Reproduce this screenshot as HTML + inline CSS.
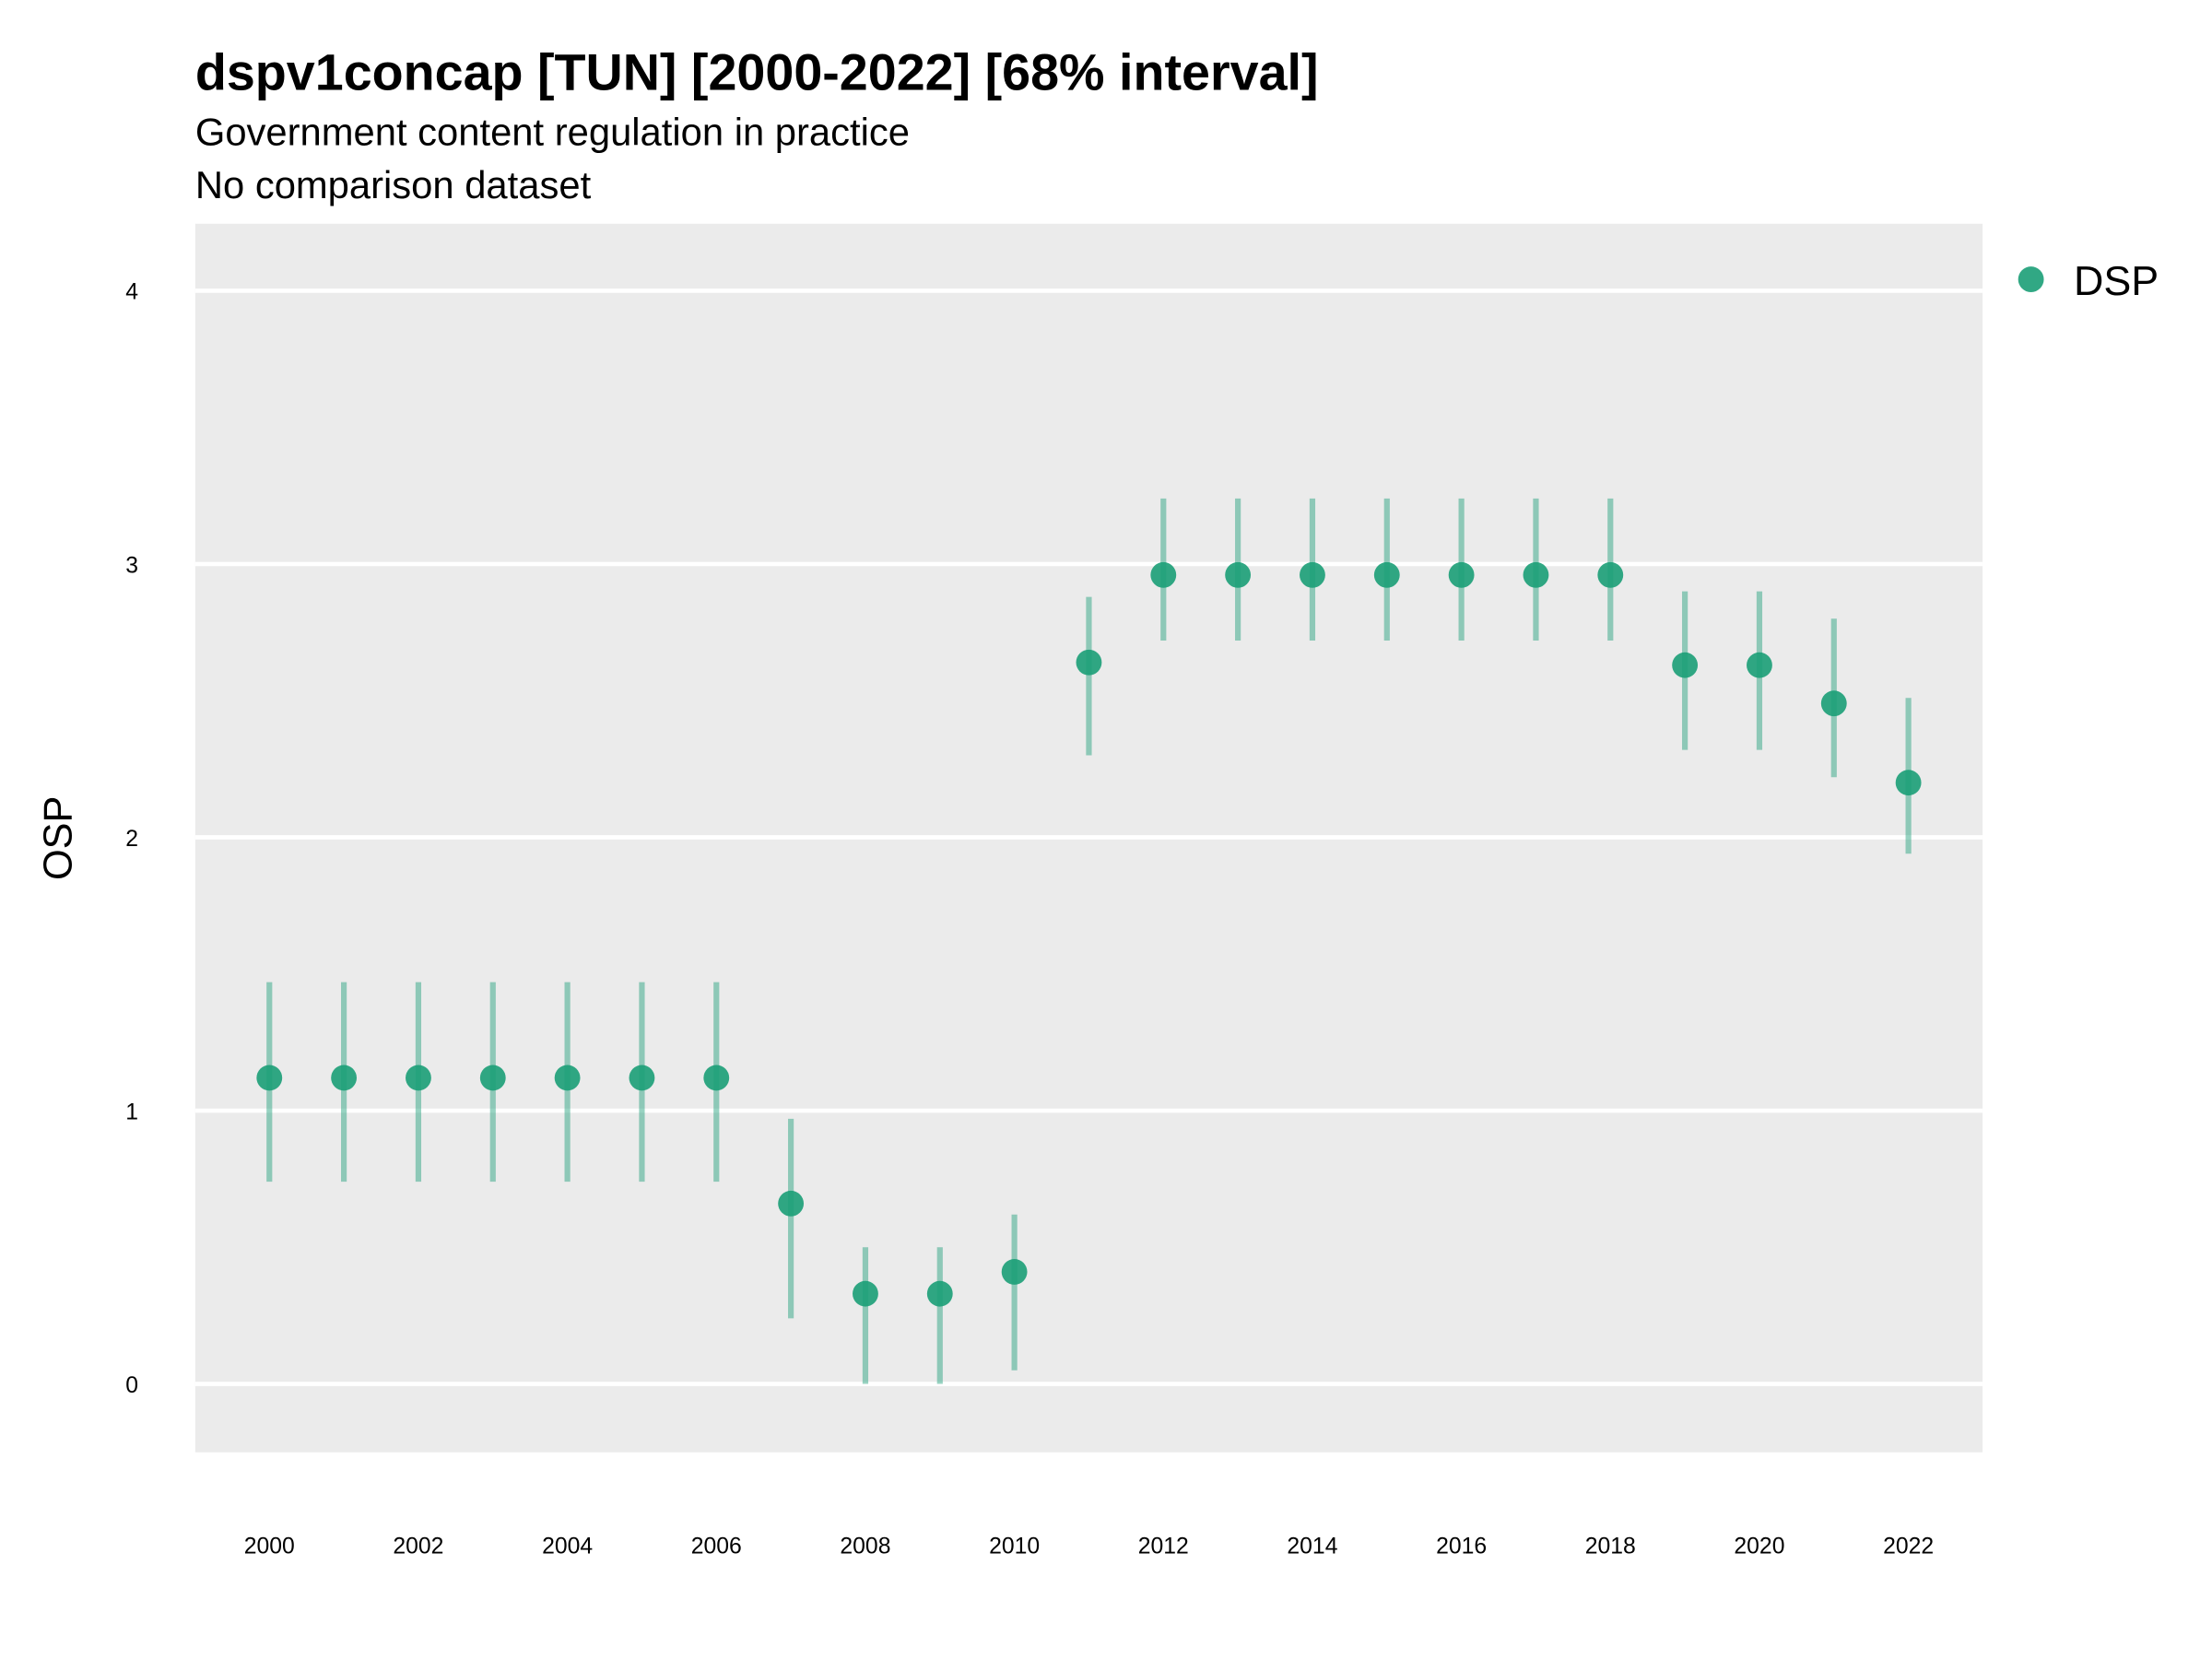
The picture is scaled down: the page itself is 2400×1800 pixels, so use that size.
<!DOCTYPE html>
<html><head><meta charset="utf-8"><style>html,body{margin:0;padding:0;background:#fff}svg{display:block}text{font-family:"Liberation Sans",Arial,sans-serif}</style></head>
<body>
<svg id="chart" width="2400" height="1800" viewBox="0 0 1552 1164" xmlns="http://www.w3.org/2000/svg">
<text x="137" y="63" font-size="36" font-weight="bold" fill="#000">dspv1concap [TUN] [2000-2022] [68% interval]</text>
<text x="137" y="102" font-size="27" fill="#000">Government content regulation in practice</text>
<text x="137" y="139" font-size="27" fill="#000">No comparison dataset</text>
<rect x="137" y="157" width="1254" height="862" fill="#ebebeb"/>
<g id="grid"></g>
<g id="marks"></g>
<g id="yticks"></g>
<g id="xticks"></g>
<text transform="translate(50,588) rotate(-90)" text-anchor="middle" font-size="28" fill="#000">OSP</text>
<circle cx="1425" cy="196" r="9" fill="#1b9e77" fill-opacity="0.9"/>
<text x="1455" y="207" font-size="29" fill="#000">DSP</text>
</svg>
<script>
const years = [2000,2001,2002,2003,2004,2005,2006,2007,2008,2009,2010,2011,2012,2013,2014,2015,2016,2017,2018,2019,2020,2021,2022];
const estimates = [1.12,1.12,1.12,1.12,1.12,1.12,1.12,0.66,0.33,0.33,0.41,2.64,2.96,2.96,2.96,2.96,2.96,2.96,2.96,2.63,2.63,2.49,2.20];
const lowerBounds = [0.74,0.74,0.74,0.74,0.74,0.74,0.74,0.24,0.00,0.00,0.05,2.30,2.72,2.72,2.72,2.72,2.72,2.72,2.72,2.32,2.32,2.22,1.94];
const upperBounds = [1.47,1.47,1.47,1.47,1.47,1.47,1.47,0.97,0.50,0.50,0.62,2.88,3.24,3.24,3.24,3.24,3.24,3.24,3.24,2.90,2.90,2.80,2.51];
const yTickValues = [0,1,2,3,4];
const xTickValues = [2000,2002,2004,2006,2008,2010,2012,2014,2016,2018,2020,2022];
const NS="http://www.w3.org/2000/svg";
const xs = y => 189 + (y-2000)*(1339-189)/22;
const ys = v => 971 - v*(971-204)/4;
function mk(tag, attrs, parent){const e=document.createElementNS(NS,tag);for(const k in attrs)e.setAttribute(k,attrs[k]);document.getElementById(parent).appendChild(e);return e;}
yTickValues.forEach(v=>{
  const l=mk('line',{x1:137,x2:1391,y1:ys(v),y2:ys(v),stroke:'#fff','stroke-width':3},'grid');
  
  
  const t=mk('text',{x:97,y:ys(v)+6,'font-size':16,'text-anchor':'end',fill:'#000'},'yticks');
  t.textContent=v;
  
  
});
xTickValues.forEach(v=>{
  const t=mk('text',{x:xs(v),y:1090,'font-size':16,'text-anchor':'middle',fill:'#000'},'xticks');
  t.textContent=v;
  
  
});
years.forEach((yr,i)=>{
  const l=mk('line',{x1:xs(yr),x2:xs(yr),y1:ys(lowerBounds[i]),y2:ys(upperBounds[i]),stroke:'#1b9e77','stroke-opacity':0.45,'stroke-width':4},'marks');
  
  
});
years.forEach((yr,i)=>{
  const c=mk('circle',{cx:xs(yr),cy:ys(estimates[i]),r:9,fill:'#1b9e77','fill-opacity':0.9},'marks');
  
  
});
</script>
</body></html>
